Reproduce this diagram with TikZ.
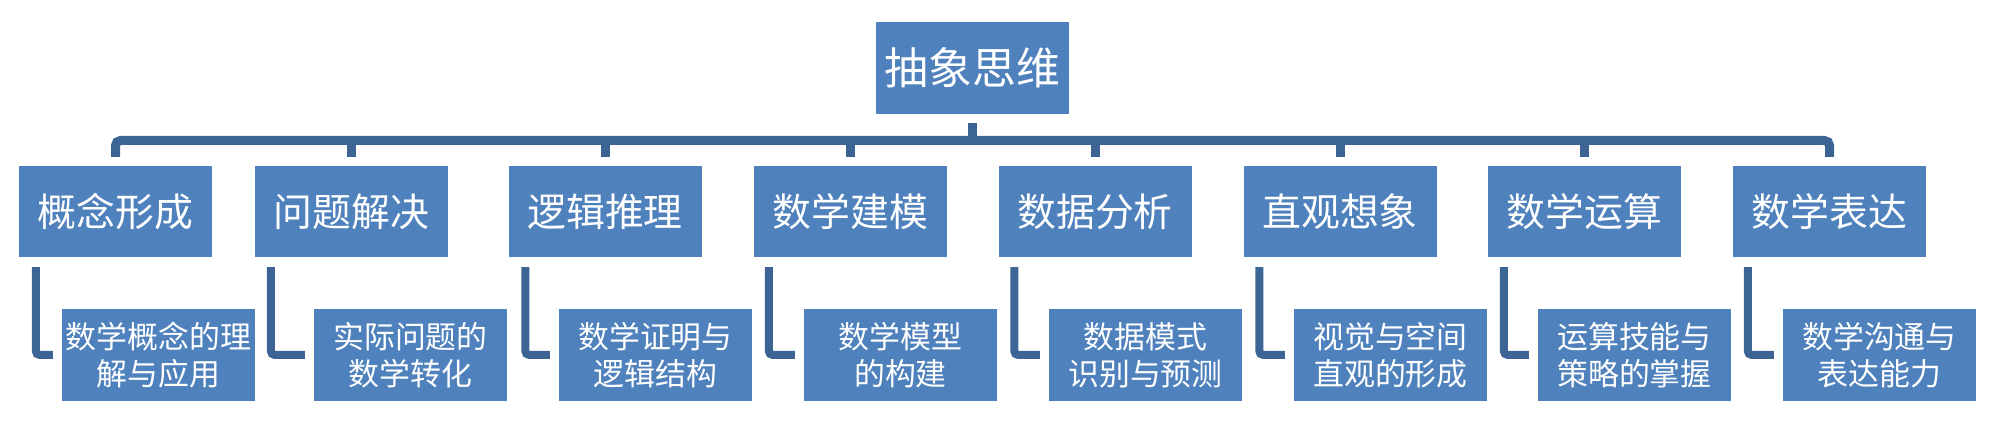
\documentclass[tikz,border=0pt]{standalone}
\usepackage{fontspec}
\newfontfamily\cjk{Noto Sans CJK SC}
\definecolor{boxblue}{HTML}{4F81BD}
\definecolor{linkblue}{HTML}{3C6595}
\tikzset{
  box/.style={fill=boxblue, text=white, inner sep=0pt, minimum width=193bp, align=center},
  topbox/.style={box, minimum height=92bp, font=\cjk\fontsize{44}{50}\selectfont},
  catbox/.style={box, minimum height=91bp, font=\cjk\fontsize{39}{44}\selectfont},
  leafbox/.style={box, minimum height=92bp, font=\cjk\fontsize{31}{37}\selectfont},
  bus/.style={draw=linkblue, line width=9bp, rounded corners=5bp},
  bracket/.style={draw=linkblue, line width=8bp, rounded corners=4bp}
}
\begin{document}
\begin{tikzpicture}[x=1bp, y=-1bp]
      \useasboundingbox (0,0) rectangle (2000,434);
      \draw
        (972.5,68) node[topbox] (top){抽象思维}
        (115.5,211.5) node[catbox] (a1){概念形成}
        (351.5,211.5) node[catbox] (a2){问题解决}
        (605,211.5) node[catbox] (a3){逻辑推理}
        (850.5,211.5) node[catbox] (a4){数学建模}
        (1095,211.5) node[catbox] (a5){数据分析}
        (1340,211.5) node[catbox] (a6){直观想象}
        (1584.5,211.5) node[catbox] (a7){数学运算}
        (1829.5,211.5) node[catbox] (a8){数学表达}
        (158.5,355) node[leafbox] (b1){数学概念的理\\解与应用}
        (410.5,355) node[leafbox] (b2){实际问题的\\数学转化}
        (655.5,355) node[leafbox] (b3){数学证明与\\逻辑结构}
        (900.5,355) node[leafbox] (b4){数学模型\\的构建}
        (1145.5,355) node[leafbox] (b5){数据模式\\识别与预测}
        (1390.5,355) node[leafbox] (b6){视觉与空间\\直观的形成}
        (1634.5,355) node[leafbox] (b7){运算技能与\\策略的掌握}
        (1879.5,355) node[leafbox] (b8){数学沟通与\\表达能力};
      \begin{scope}[-]
        \path[bus] ([yshift=9bp]a1.north) -- (a1.north |- 0,140.5) -- (a8.north |- 0,140.5) -- ([yshift=9bp]a8.north);
        \path[bus] ([yshift=-9bp]top.south) -- (top.south |- 0,140.5);
        \path[bus] (a2.north |- 0,140.5) -- ([yshift=9bp]a2.north);
        \path[bus] (a3.north |- 0,140.5) -- ([yshift=9bp]a3.north);
        \path[bus] (a4.north |- 0,140.5) -- ([yshift=9bp]a4.north);
        \path[bus] (a5.north |- 0,140.5) -- ([yshift=9bp]a5.north);
        \path[bus] (a6.north |- 0,140.5) -- ([yshift=9bp]a6.north);
        \path[bus] (a7.north |- 0,140.5) -- ([yshift=9bp]a7.north);
        \path[bracket] ([xshift=17bp, yshift=-10bp]a1.south west) |- ([xshift=-9bp]b1.west);
        \path[bracket] ([xshift=16bp, yshift=-10bp]a2.south west) |- ([xshift=-9bp]b2.west);
        \path[bracket] ([xshift=17bp, yshift=-10bp]a3.south west) |- ([xshift=-9bp]b3.west);
        \path[bracket] ([xshift=15bp, yshift=-10bp]a4.south west) |- ([xshift=-9bp]b4.west);
        \path[bracket] ([xshift=16bp, yshift=-10bp]a5.south west) |- ([xshift=-9bp]b5.west);
        \path[bracket] ([xshift=16bp, yshift=-10bp]a6.south west) |- ([xshift=-9bp]b6.west);
        \path[bracket] ([xshift=16bp, yshift=-10bp]a7.south west) |- ([xshift=-9bp]b7.west);
        \path[bracket] ([xshift=15bp, yshift=-10bp]a8.south west) |- ([xshift=-9bp]b8.west);
      \end{scope}
    \end{tikzpicture}
\end{document}
